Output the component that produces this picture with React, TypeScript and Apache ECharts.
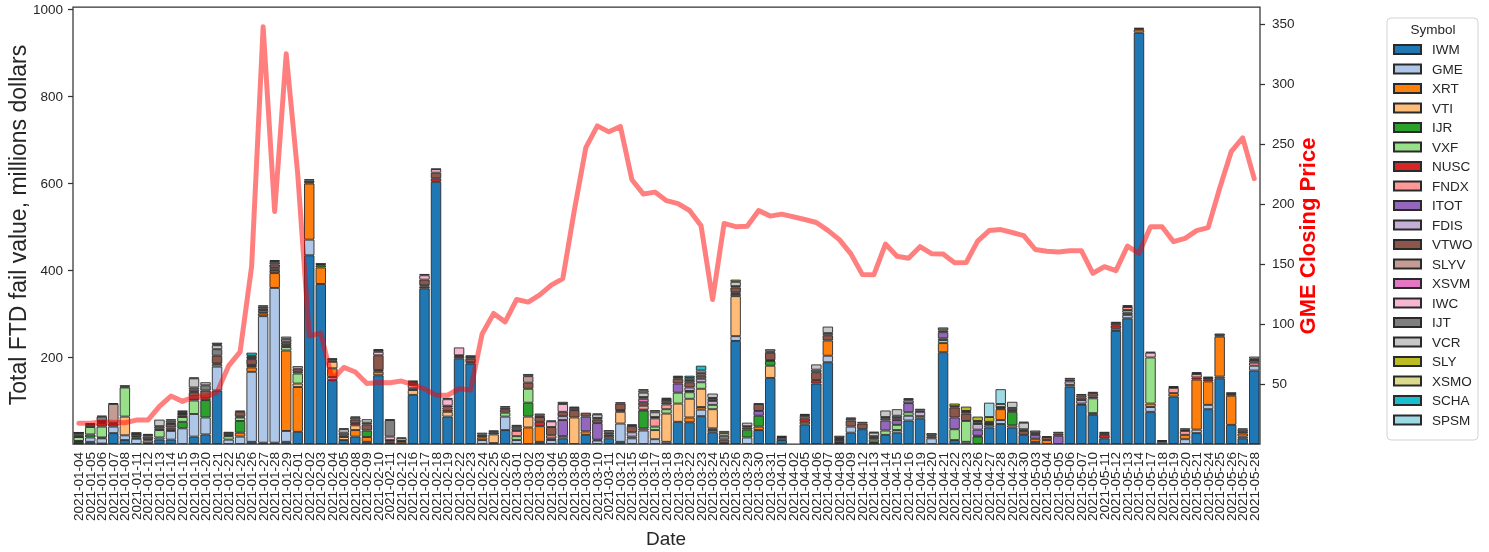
import React, { useEffect, useRef } from "react";
import * as echarts from "echarts";

const dates = [
  "2021-01-04","2021-01-05","2021-01-06","2021-01-07","2021-01-08","2021-01-11","2021-01-12","2021-01-13","2021-01-14","2021-01-15",
  "2021-01-19","2021-01-20","2021-01-21","2021-01-22","2021-01-25","2021-01-26","2021-01-27","2021-01-28","2021-01-29","2021-02-01",
  "2021-02-02","2021-02-03","2021-02-04","2021-02-05","2021-02-08","2021-02-09","2021-02-10","2021-02-11","2021-02-12","2021-02-16",
  "2021-02-17","2021-02-18","2021-02-19","2021-02-22","2021-02-23","2021-02-24","2021-02-25","2021-02-26","2021-03-01","2021-03-02",
  "2021-03-03","2021-03-04","2021-03-05","2021-03-08","2021-03-09","2021-03-10","2021-03-11","2021-03-12","2021-03-15","2021-03-16",
  "2021-03-17","2021-03-18","2021-03-19","2021-03-22","2021-03-23","2021-03-24","2021-03-25","2021-03-26","2021-03-29","2021-03-30",
  "2021-03-31","2021-04-01","2021-04-02","2021-04-05","2021-04-06","2021-04-07","2021-04-08","2021-04-09","2021-04-12","2021-04-13",
  "2021-04-14","2021-04-15","2021-04-16","2021-04-19","2021-04-20","2021-04-21","2021-04-22","2021-04-23","2021-04-26","2021-04-27",
  "2021-04-28","2021-04-29","2021-04-30","2021-05-03","2021-05-04","2021-05-05","2021-05-06","2021-05-07","2021-05-10","2021-05-11",
  "2021-05-12","2021-05-13","2021-05-14","2021-05-17","2021-05-18","2021-05-19","2021-05-20","2021-05-21","2021-05-24","2021-05-25",
  "2021-05-26","2021-05-27","2021-05-28",
];

const symbols = ["IWM","GME","XRT","VTI","IJR","VXF","NUSC","FNDX","ITOT","FDIS","VTWO","SLYV","XSVM","IWC","IJT","VCR","SLY","XSMO","SCHA","SPSM"];
const symbolColors = ["#1f77b4","#aec7e8","#ff7f0e","#ffbb78","#2ca02c","#98df8a","#d62728","#ff9896","#9467bd","#c5b0d5","#8c564b","#c49c94","#e377c2","#f7b6d2","#7f7f7f","#c7c7c7","#bcbd22","#dbdb8d","#17becf","#9edae5"];

const IWM = [
  2,5,1,25,9,0,2,10,10,0,
  17,22,123,0,0,5,3,3,5,28,
  434,368,147,9,17,5,158,3,0,113,
  358,603,63,197,185,0,2,32,0,0,
  5,0,13,0,21,0,13,5,0,0,
  0,0,51,50,64,27,2,237,0,32,
  152,9,0,45,139,188,0,26,34,2,
  21,26,54,59,0,211,9,0,0,38,
  46,38,21,5,0,0,132,90,67,13,
  260,289,946,74,0,109,0,25,80,151,
  44,13,169,
];
const GME = [
  3,10,12,15,11,12,6,5,20,36,
  52,39,55,10,17,161,291,356,25,0,
  36,0,7,0,0,0,0,0,0,0,
  0,0,0,0,0,9,0,31,9,0,
  0,9,5,0,0,8,0,42,13,31,
  11,5,0,0,15,5,0,11,15,0,
  0,0,0,0,0,15,0,14,0,0,
  0,6,11,0,13,0,0,5,0,5,
  9,0,0,0,0,0,0,3,4,0,
  5,8,0,11,5,0,11,8,10,4,
  0,4,11,
];
const XRT = [
  0,0,0,0,0,0,0,0,0,0,
  0,0,0,0,9,10,6,34,185,103,
  129,38,20,0,15,11,8,0,5,0,
  0,0,0,0,0,6,0,0,0,38,
  36,0,0,0,8,0,5,0,0,5,
  0,0,0,11,6,4,0,0,0,8,
  0,0,0,6,0,35,0,0,0,0,
  0,0,0,0,4,21,0,0,0,0,
  25,0,0,7,9,0,0,0,0,0,
  0,0,7,8,0,8,10,115,54,92,
  67,7,0,
];
const VTI = [
  0,0,0,0,43,0,0,0,0,0,
  0,0,0,0,0,3,0,0,0,8,
  0,0,15,7,11,0,0,3,0,11,
  0,0,11,0,0,0,20,0,0,25,
  0,0,0,61,0,0,0,27,0,0,
  21,65,42,43,42,44,0,92,0,0,
  28,0,0,0,0,0,0,0,0,2,
  0,0,0,5,0,0,0,0,0,0,
  0,5,0,0,0,0,4,0,0,0,
  0,0,0,0,0,0,0,0,0,0,
  0,0,0,
];
const IJR = [
  2,7,2,0,0,3,0,0,0,15,
  0,40,0,0,27,0,0,0,0,0,
  0,5,0,0,0,15,0,0,0,0,
  4,0,0,0,0,0,0,0,0,32,
  0,0,0,0,0,0,0,0,0,41,
  0,0,0,0,0,0,0,0,18,25,
  11,0,0,0,0,0,0,0,0,0,
  0,0,0,0,0,0,0,0,17,0,
  0,31,0,0,0,0,0,0,0,0,
  0,5,0,0,0,0,0,0,0,0,
  0,0,0,
];
const VXF = [
  9,17,25,0,67,0,0,17,0,11,
  31,4,5,8,8,0,0,0,8,23,
  0,0,0,0,0,0,0,0,0,0,
  3,0,0,0,0,0,0,9,9,32,
  0,0,0,0,0,0,0,0,0,2,
  8,10,25,15,15,10,0,0,0,0,
  0,0,0,0,0,0,0,0,0,6,
  10,12,8,0,0,7,25,48,0,0,
  0,0,0,0,0,0,0,0,34,0,
  0,6,0,106,0,0,0,0,0,0,
  0,0,0,
];
const NUSC = [
  1,5,8,7,0,0,3,0,4,4,
  4,0,0,0,2,0,3,7,5,0,
  0,0,3,0,5,0,0,0,0,4,
  0,8,5,5,3,0,0,0,0,0,
  10,4,0,0,0,2,4,4,0,0,
  0,0,0,3,0,0,0,0,0,0,
  2,0,0,8,8,0,2,0,0,0,
  0,0,0,0,0,0,0,0,2,0,
  0,0,0,0,0,0,0,0,4,8,
  8,0,0,0,0,0,0,5,5,0,
  0,0,0,
];
const FNDX = [
  0,0,2,0,0,0,0,0,0,3,
  0,0,0,0,0,0,0,0,0,0,
  0,0,0,0,0,0,0,0,0,8,
  0,0,5,0,0,0,0,0,12,0,
  0,7,0,0,0,0,0,0,4,9,
  19,11,0,0,0,0,0,0,0,0,
  0,0,0,5,0,0,0,0,0,4,
  0,0,0,0,0,4,0,0,0,0,
  0,0,0,0,0,0,0,0,0,0,
  0,7,0,0,0,12,9,8,0,0,
  0,0,7,
];
const ITOT = [
  0,0,0,0,0,0,0,0,0,0,
  0,0,0,0,0,0,0,0,0,0,
  0,0,0,0,0,0,0,0,0,0,
  0,0,0,0,0,0,0,0,0,0,
  0,0,37,0,34,38,0,0,0,0,
  0,0,21,0,0,0,0,5,0,11,
  0,0,0,0,0,0,3,0,0,0,
  23,11,21,0,0,14,27,0,14,0,
  0,0,0,9,0,19,0,0,0,0,
  0,0,0,0,0,0,0,0,0,0,
  0,0,0,
];
const FDIS = [
  0,0,0,0,0,0,0,0,4,0,
  5,0,2,0,0,3,5,5,0,4,
  0,0,0,0,0,0,4,0,0,0,
  0,0,0,0,0,0,0,0,0,0,
  0,0,9,0,0,0,0,0,10,0,
  0,0,0,8,8,9,0,4,0,0,
  0,5,0,0,0,0,4,0,0,0,
  4,5,6,10,0,0,0,0,13,0,
  0,0,0,0,0,0,8,8,0,0,
  0,0,0,0,0,0,0,0,0,0,
  0,0,0,
];
const VTWO = [
  3,2,3,2,2,3,6,4,8,3,
  10,18,18,3,11,13,4,8,6,7,
  3,3,3,4,8,14,34,3,2,5,
  13,13,4,2,8,3,4,8,6,14,
  11,19,10,17,9,8,4,15,14,8,
  3,5,11,12,7,5,8,11,5,16,
  17,2,0,3,18,12,0,14,13,0,
  0,0,3,3,3,4,23,17,4,3,
  2,4,9,4,7,5,4,6,8,4,
  5,2,2,0,2,2,3,2,3,3,
  4,4,6,
];
const SLYV = [
  0,0,0,43,0,0,0,0,0,0,
  0,0,0,0,0,0,0,0,0,0,
  0,0,0,0,0,0,0,0,0,0,
  0,0,0,0,4,0,0,0,0,15,
  0,0,0,0,0,0,0,0,0,0,
  0,0,0,0,0,0,0,0,0,0,
  0,0,0,0,0,0,0,0,0,0,
  0,0,0,0,0,0,0,0,0,0,
  0,0,0,0,0,0,0,0,0,0,
  0,0,0,0,0,0,0,0,0,0,
  0,0,0,
];
const XSVM = [
  0,0,0,0,0,0,0,0,0,0,
  2,0,0,0,0,0,0,0,0,0,
  0,0,0,0,0,0,0,0,0,0,
  0,0,0,0,0,0,0,0,0,0,
  0,0,0,0,0,0,0,0,2,8,
  0,0,0,0,0,0,0,0,0,0,
  0,0,0,0,0,0,3,0,0,0,
  0,0,0,0,0,0,0,0,0,0,
  0,0,0,0,0,0,0,0,0,0,
  0,0,0,0,0,0,0,0,0,0,
  0,0,0,
];
const IWC = [
  0,0,0,0,0,0,0,0,3,2,
  4,0,0,0,0,2,0,0,0,0,
  0,0,0,0,0,0,8,8,6,2,
  10,8,15,18,0,0,0,0,0,0,
  0,13,18,0,0,0,0,0,2,4,
  0,0,0,0,0,0,0,0,0,0,
  0,0,0,0,0,0,2,0,0,0,
  0,0,0,0,0,0,0,0,0,0,
  0,0,0,0,0,0,0,0,0,0,
  0,0,0,11,0,0,0,0,0,0,
  0,0,0,
];
const IJT = [
  5,2,10,2,3,5,4,5,5,3,
  5,12,15,4,3,4,4,5,8,0,
  4,1,2,6,5,4,4,38,2,3,
  3,1,3,0,4,4,3,4,5,5,
  4,2,5,5,0,4,6,3,0,0,
  0,5,4,5,6,2,9,3,3,1,
  3,3,0,2,6,5,5,4,4,4,
  4,5,2,4,5,7,3,4,3,3,
  3,5,4,6,2,4,4,5,3,3,
  3,2,2,2,2,2,3,2,3,4,
  4,5,3,
];
const VCR = [
  1,0,2,0,0,1,2,15,3,0,
  21,7,9,0,0,0,3,3,5,6,
  3,0,0,8,0,8,2,0,0,0,
  0,0,0,0,0,4,0,3,3,0,
  4,0,0,3,0,8,0,0,0,10,
  11,3,3,5,6,10,6,10,8,0,
  5,0,0,0,12,15,0,3,0,8,
  15,15,0,0,0,0,0,2,0,2,
  7,14,15,0,0,0,0,3,0,0,
  0,0,0,0,0,0,0,0,0,0,
  0,3,5,
];
const SLY = [
  1,0,0,0,0,3,0,0,0,0,
  2,0,2,3,0,2,0,2,0,0,
  0,0,0,2,2,0,0,2,0,0,
  0,0,0,0,0,0,2,0,0,0,
  0,0,0,0,0,2,0,0,0,5,
  5,2,0,0,0,0,5,5,0,0,
  0,0,0,0,0,0,0,0,0,2,
  0,0,0,0,0,0,6,10,10,11,
  0,0,2,0,0,0,0,0,0,0,
  0,0,0,0,0,0,0,0,0,0,
  0,0,0,
];
const XSMO = [
  0,0,0,0,0,0,0,0,0,0,
  0,0,0,0,0,0,0,0,0,0,
  0,0,0,0,0,0,0,0,0,0,
  0,0,0,0,0,0,0,0,0,0,
  0,0,0,0,0,0,0,0,0,0,
  0,0,0,0,0,0,0,0,0,0,
  0,0,0,0,0,0,0,0,0,0,
  0,0,0,0,0,0,0,0,0,0,
  0,0,0,0,0,0,0,0,0,0,
  0,0,0,0,0,0,0,0,0,0,
  0,0,0,
];
const SCHA = [
  0,0,0,0,0,0,0,0,0,0,
  0,0,4,0,0,7,0,0,0,0,
  0,0,0,0,0,0,0,0,0,0,
  0,0,0,0,0,0,0,0,0,0,
  0,0,0,0,0,0,0,0,0,3,
  0,0,0,5,11,0,0,0,0,0,
  0,0,0,0,0,0,0,0,0,0,
  0,0,0,0,0,0,0,0,0,0,
  0,0,0,0,0,0,0,0,0,0,
  0,0,0,0,0,0,0,0,0,0,
  0,0,0,
];
const SPSM = [
  0,0,0,0,0,0,0,0,0,0,
  0,0,0,0,0,0,0,0,0,0,
  0,0,0,0,0,0,0,0,0,0,
  0,0,0,0,0,0,0,0,0,0,
  0,0,0,0,0,0,0,0,0,0,
  0,0,0,0,0,0,0,0,0,0,
  0,0,0,0,0,0,0,0,0,0,
  0,0,0,0,0,0,0,0,0,33,
  34,0,0,0,0,0,0,0,0,0,
  0,0,0,0,0,0,0,0,0,0,
  0,0,0,
];

const gmeClose = [
  17.25,17.37,18.36,18.08,17.69,19.94,19.95,31.4,39.91,35.5,
  39.36,39.12,43.03,65.01,76.79,147.98,347.51,193.6,325.0,225.0,
  90.0,92.41,53.5,63.77,60.0,50.31,51.2,51.1,52.4,49.51,
  45.94,40.69,40.59,46.0,44.97,91.71,108.73,101.74,120.4,118.18,
  124.18,132.35,137.74,194.5,246.9,265.0,260.0,264.5,220.14,208.17,
  209.81,202.69,200.27,194.49,181.75,120.34,183.75,181.0,181.3,194.46,
  189.82,191.45,null,186.95,184.5,177.97,170.26,158.36,141.09,140.99,
  166.53,156.44,154.69,164.37,158.53,158.17,151.0,151.1,169.0,177.8,
  178.58,176.19,173.59,162.0,160.5,159.9,160.9,161.0,142.2,147.7,
  144.4,164.9,158.8,181.0,181.0,168.5,171.3,177.7,180.2,213.0,
  243.5,255.0,221.0,
];

const leftTicks = [200, 400, 600, 800, 1000];
const rightTicks = [50, 100, 150, 200, 250, 300, 350];

const seriesValues = [IWM, GME, XRT, VTI, IJR, VXF, NUSC, FNDX, ITOT, FDIS, VTWO, SLYV, XSVM, IWC, IJT, VCR, SLY, XSMO, SCHA, SPSM];

const FONT = "'Liberation Sans', Arial, 'DejaVu Sans', sans-serif";
const TXT = "#262626";

export default function App() {
  const ref = useRef<HTMLDivElement>(null);
  useEffect(() => {
    if (!ref.current) return;
    const chart = echarts.init(ref.current, null, { renderer: "svg" });
    const barSeries = symbols.map((name, k) => ({
      name,
      type: "bar",
      stack: "ftd",
      barWidth: "90%",
      yAxisIndex: 0,
      itemStyle: { color: symbolColors[k], borderColor: "#2a2a2a", borderWidth: 0.9 },
      emphasis: { disabled: true },
      data: seriesValues[k].map((v) => (v === 0 ? "-" : v)),
    }));
    const option: any = {
      animation: false,
      textStyle: { fontFamily: FONT },
      grid: { left: 73, right: 229, top: 7, bottom: 108, show: true, borderColor: "#333", borderWidth: 1.25, backgroundColor: "transparent" },
      xAxis: {
        type: "category",
        data: dates,
        axisLine: { show: false },
        axisTick: { show: false },
        axisLabel: { rotate: 90, interval: 0, fontSize: 13.5, color: TXT, margin: 8, fontFamily: FONT },
        splitLine: { show: false },
      },
      yAxis: [
        {
          type: "value",
          min: 0,
          max: 1005,
          position: "left",
          axisLine: { show: false },
          splitLine: { show: false },
          axisTick: { show: true, length: 5, lineStyle: { color: "#333", width: 1.25 }, customValues: leftTicks },
          axisLabel: { fontSize: 13.5, color: TXT, margin: 10, fontFamily: FONT, customValues: leftTicks, formatter: (v: number) => String(v) },
        },
        {
          type: "value",
          min: 0,
          max: 364,
          position: "right",
          axisLine: { show: false },
          splitLine: { show: false },
          axisTick: { show: true, length: 5, lineStyle: { color: "#333", width: 1.25 }, customValues: rightTicks },
          axisLabel: { fontSize: 13.5, color: TXT, margin: 12, fontFamily: FONT, customValues: rightTicks, formatter: (v: number) => String(v) },
        },
      ],
      legend: {
        orient: "vertical",
        left: 1388,
        top: 37,
        itemWidth: 27,
        itemHeight: 9,
        itemGap: 4.5,
        icon: "rect",
        selectedMode: false,
        data: symbols,
        textStyle: { fontSize: 13.5, color: TXT, lineHeight: 15, fontFamily: FONT, padding: [0, 0, 0, 6] },
      },
      graphic: [
        { type: "rect", z: 0, shape: { x: 1387, y: 18, width: 91, height: 422, r: 4 }, style: { fill: "#fff", stroke: "#d3d3d3", lineWidth: 1 } },
        { type: "text", z: 10, x: 1433, y: 29.5, style: { text: "Symbol", fontSize: 13.5, fill: TXT, align: "center", verticalAlign: "middle", fontFamily: FONT } },
        { type: "text", x: 18, y: 225, rotation: Math.PI / 2, style: { text: "Total FTD fail value, millions dollars", fontSize: 23, fill: TXT, align: "center", verticalAlign: "middle", fontFamily: FONT } },
        { type: "text", x: 666, y: 538, style: { text: "Date", fontSize: 19, fill: TXT, align: "center", verticalAlign: "middle", fontFamily: FONT } },
        { type: "text", x: 1307, y: 236, rotation: Math.PI / 2, style: { text: "GME Closing Price", fontSize: 22, fontWeight: "bold", fill: "#ff0000", align: "center", verticalAlign: "middle", fontFamily: FONT } },
      ],
      series: [
        ...barSeries,
        {
          name: "GME Close",
          type: "line",
          yAxisIndex: 1,
          data: gmeClose.map((v) => (v === null ? "-" : v)),
          connectNulls: true,
          showSymbol: false,
          symbol: "none",
          z: 5,
          emphasis: { disabled: true },
          lineStyle: { color: "rgba(255,0,0,0.5)", width: 5, join: "round", cap: "round" },
        },
      ],
    };
    chart.setOption(option);
    return () => chart.dispose();
  }, []);
  return <div ref={ref} style={{ position: "fixed", left: 0, top: 0, width: 1489, height: 552 }} />;
}
